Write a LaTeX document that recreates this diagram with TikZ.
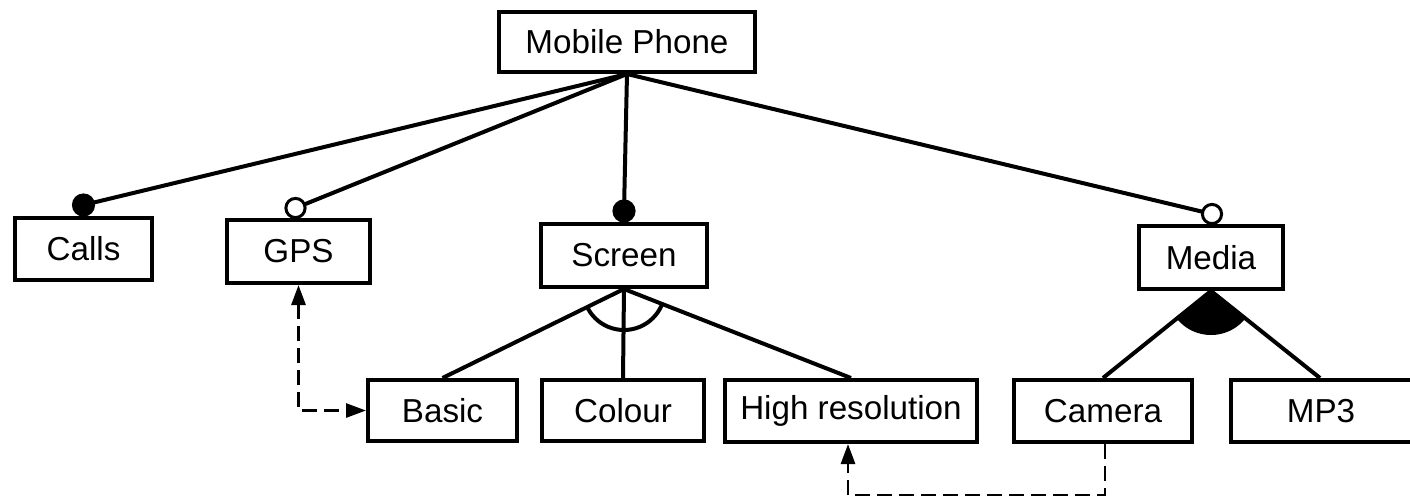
\documentclass[tikz,border=0pt]{standalone}
\usepackage{fontspec}
\setmainfont{Liberation Sans}
\usetikzlibrary{arrows.meta,calc}
\begin{document}
\begin{tikzpicture}[x=0.5pt,y=-0.5pt,
  feat/.style={draw,line width=2pt,inner sep=0pt,fill=white,font=\fontsize{16.6}{20}\selectfont},
  conn/.style={line width=2pt},
  optc/.style={draw,line width=1.5pt,fill=white},
  req/.style={dash pattern=on 7.5pt off 3.5pt,line width=1.4pt},
  tipA/.tip={Triangle[length=10pt,width=7pt]}]
\useasboundingbox (0,0) rectangle (1410,499);
% features
\node[feat,minimum width=128pt,minimum height=30pt] (mp) at (627,42) {Mobile Phone};
\node[feat,minimum width=68.5pt,minimum height=31pt] (calls) at (83.5,249) {Calls};
\node[feat,minimum width=71.5pt,minimum height=31.5pt] (gps) at (298.5,251.5) {GPS};
\node[feat,minimum width=83pt,minimum height=31.5pt] (screen) at (624,255.5) {Screen};
\node[feat,minimum width=72pt,minimum height=31.5pt] (media) at (1211,257.5) {Media};
\node[feat,minimum width=74.5pt,minimum height=30.5pt] (basic) at (442.5,410.5) {Basic};
\node[feat,minimum width=81pt,minimum height=30.5pt] (colour) at (623,410.5) {Colour};
\node[feat,minimum width=126pt,minimum height=31pt] (hr) at (851,411) {High resolution};
\node[feat,minimum width=89pt,minimum height=31pt] (camera) at (1103,411) {Camera};
\node[feat,minimum width=100pt,minimum height=31pt] (mp3) at (1331,411) {\hspace*{-10pt}MP3};
% circle anchors
\coordinate (cc) at ($(calls.north)+(0,-11)$);
\coordinate (gc) at ($(gps.north)+(-3,-10)$);
\coordinate (sc) at ($(screen.north)+(0,-11)$);
\coordinate (mc) at ($(media.north)+(1,-10)$);
\coordinate (mp3top) at ([xshift=-5.5pt]mp3.north);
% connectors from root
\draw[conn] (mp.south) -- (cc);
\draw[conn] (mp.south) -- (gc);
\draw[conn] (mp.south) -- (sc);
\draw[conn] (mp.south) -- (mc);
\fill (cc) circle (5.8pt);
\fill (sc) circle (5.8pt);
\draw[optc] (gc) circle (4.8pt);
\draw[optc] (mc) circle (4.8pt);
% screen alternative group
\draw[conn] (screen.south) -- (basic.north);
\draw[conn] (screen.south) -- (colour.north);
\draw[conn] (screen.south) -- (hr.north);
\begin{scope}
  \clip (screen.south) -- ($(screen.south)!3!(basic.north)$) -- ($(screen.south)!3!(hr.north)$) -- cycle;
  \draw[conn] (screen.south) circle (20.5pt);
\end{scope}
% media or group
\draw[conn] (media.south) -- (camera.north);
\draw[conn] (media.south) -- (mp3top);
\begin{scope}
  \clip (media.south) -- ($(media.south)!3!(camera.north)$) -- ($(media.south)!3!(mp3top)$) -- cycle;
  \fill (media.south) circle (22pt);
\end{scope}
% cross-tree constraints
\draw[req,{tipA}-{tipA}] (gps.south) |- (basic.west);
\draw[req,-{tipA}] ([xshift=1pt]camera.south) -- ++(0,51) -| ([xshift=-1.5pt]hr.south);
\end{tikzpicture}
\end{document}
